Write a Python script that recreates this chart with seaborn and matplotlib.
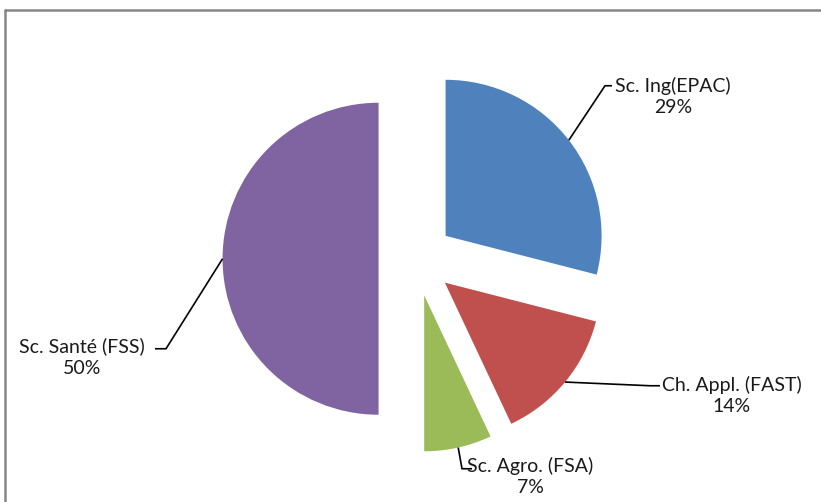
#!/usr/bin/env python

import numpy as np
import matplotlib
matplotlib.use('Agg')
import matplotlib.pyplot as plt
from matplotlib.lines import Line2D
import seaborn as sns

# Data
LABELS = ['Sc. Ing(EPAC)', 'Ch. Appl. (FAST)', 'Sc. Agro. (FSA)', 'Sc. Santé (FSS)']
PERCENTS = [29, 14, 7, 50]
COLORS = ['#4F81BD', '#C0504D', '#9BBB59', '#8064A2']

# Layout (pixels, y measured from bottom)
W, H = 821, 502
CENTER = (416, 243)
RADIUS = 156
EXPLODE = 0.24
# elbow point, end of leader, text centre, for each label
LEADERS = [
    ((605, 416), (612, 416), (673, 406)),
    ((650, 116), (660, 116), (732, 107)),
    ((462, 33), (472, 33), (530, 26)),
    ((166, 153), (155, 153), (82, 145)),
]


def main():
    sns.set_theme(style='white')
    plt.rcParams['font.family'] = ['Lato', 'DejaVu Sans']

    fig = plt.figure(figsize=(W / 100, (H + 0.5) / 100), dpi=100)
    ax = fig.add_axes([0, 0, 1, 1])

    wedges, _ = ax.pie(PERCENTS, colors=COLORS, startangle=90,
                       counterclock=False, center=CENTER, radius=RADIUS,
                       explode=[EXPLODE * RADIUS] * len(PERCENTS),
                       wedgeprops=dict(linewidth=0))
    ax.set_xlim(0, W)
    ax.set_ylim(0, H)
    ax.set_aspect('equal')
    ax.axis('off')

    # leader lines start on the arc at each slice's mid angle
    for w, lab, pct, (elbow, end, txt) in zip(wedges, LABELS, PERCENTS, LEADERS):
        mid = np.deg2rad((w.theta1 + w.theta2) / 2)
        cx, cy = w.center
        x0 = cx + RADIUS * np.cos(mid)
        y0 = cy + RADIUS * np.sin(mid)
        ax.plot([x0, elbow[0], end[0]], [y0, elbow[1], end[1]],
                color='black', lw=1.2, solid_capstyle='butt')
        ax.text(txt[0], txt[1], '%s\n%d%%' % (lab, pct), ha='center',
                va='center', fontsize=14, color='#1a1a1a', linespacing=1.3)

    # chart area border (left and top only visible)
    fig.add_artist(Line2D([5 / W, 5 / W], [0, 1 - 10 / H], color='#868686',
                          lw=1.8, transform=fig.transFigure))
    fig.add_artist(Line2D([5 / W, 1.01], [1 - 10 / H, 1 - 10 / H],
                          color='#868686', lw=1.8, transform=fig.transFigure))

    fig.savefig('out.png', dpi=100)


if __name__ == '__main__':
    main()
